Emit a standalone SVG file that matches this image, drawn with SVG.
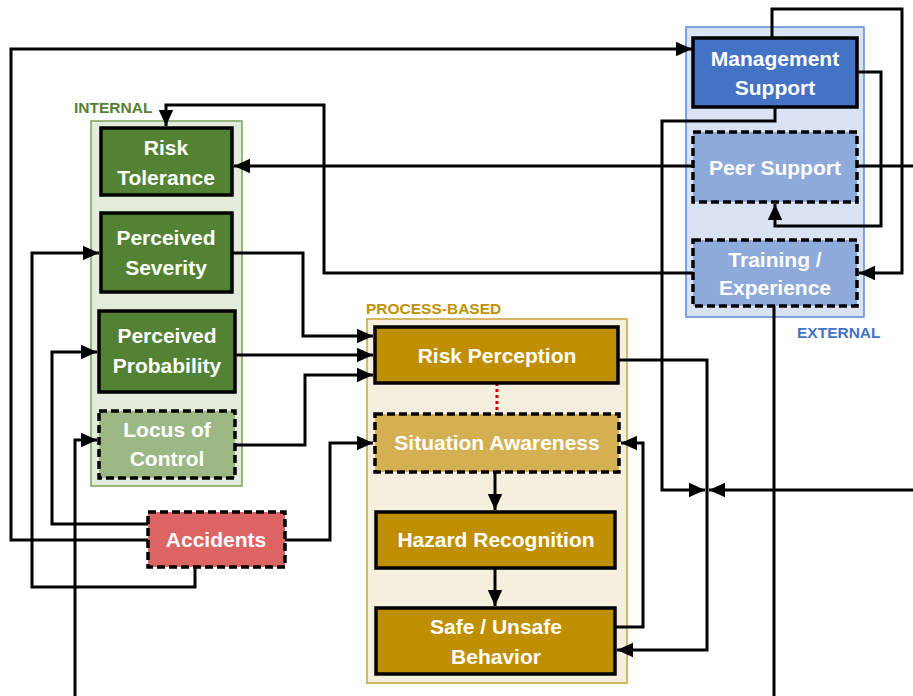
<svg xmlns="http://www.w3.org/2000/svg" width="913" height="696" viewBox="0 0 913 696">
<style>
.lbl{font-family:"Liberation Sans",Arial,sans-serif;font-weight:bold;font-size:21px;fill:#fff;text-anchor:middle}
.grp{font-family:"Liberation Sans",Arial,sans-serif;font-weight:bold;font-size:15.5px}
.nd{stroke:#000;stroke-width:3.5}
.dash{stroke-dasharray:8,4}
.cn path{fill:none;stroke:#000;stroke-width:3}
.cn path.arr{marker-end:url(#ah)}
</style>
<defs>
<marker id="ah" viewBox="0 0 10 10" refX="10" refY="5" markerWidth="16" markerHeight="16" markerUnits="userSpaceOnUse" orient="auto">
<path d="M0,0.5 L10,5 L0,9.5 z" fill="#000"/>
</marker>
</defs>
<rect width="913" height="696" fill="#fff"/>

<!-- containers -->
<g id="internal">
<rect x="91" y="121" width="151" height="365" fill="#e3ebdb" stroke="#7aa35a" stroke-width="1.5"/>
<text class="grp" x="74" y="113" fill="#548235">INTERNAL</text>
</g>
<g id="process">
<rect x="367" y="319" width="260" height="364" fill="#f5efdf" stroke="#c9a43c" stroke-width="1.5"/>
<text class="grp" x="366" y="314" fill="#bf9000">PROCESS-BASED</text>
</g>
<g id="external">
<rect x="686" y="27" width="178" height="290" fill="#dae3f3" stroke="#5b8bd8" stroke-width="1.5"/>
<text class="grp" x="797" y="338" fill="#4472c4">EXTERNAL</text>
</g>

<!-- connectors -->
<g id="connectors" class="cn">
<path class="arr" d="M148,540 H11 V49 H692"/>
<path class="arr" d="M148,524 H52 V352 H97"/>
<path class="arr" d="M195,567 V587 H32 V253 H99"/>
<path class="arr" d="M75,696 V440 H97"/>
<path class="arr" d="M285,540 H330 V443 H373"/>
<path class="arr" d="M232,253 H303 V336 H373"/>
<path class="arr" d="M235,355 H373"/>
<path class="arr" d="M235,445 H305 V375 H373"/>
<path d="M497,383 V413" style="stroke:#d00000;stroke-dasharray:3,3"/>
<path class="arr" d="M495,472 V510"/>
<path class="arr" d="M495,568 V606"/>
<path class="arr" d="M618,360 H707 V650 H617"/>
<path class="arr" d="M615,627 H643 V443 H621"/>
<path class="arr" d="M775,107 V121 H662 V490 H705"/>
<path class="arr" d="M913,490 H709"/>
<path class="arr" d="M772,38 V9 H902 V273 H859"/>
<path class="arr" d="M857,72 H881 V226 H775 V204"/>
<path class="arr" d="M693,166 H234"/>
<path d="M857,166 H913"/>
<path class="arr" d="M693,273 H324 V105 H166 V126"/>
<path d="M774,306 V696"/>
</g>

<!-- nodes -->
<g id="risk-tolerance">
<rect class="nd" x="101" y="128" width="131" height="67" fill="#548235"/>
<text class="lbl" x="166" y="155">Risk</text>
<text class="lbl" x="166" y="185">Tolerance</text>
</g>
<g id="perceived-severity">
<rect class="nd" x="101" y="213" width="131" height="79" fill="#548235"/>
<text class="lbl" x="166" y="245">Perceived</text>
<text class="lbl" x="166" y="275">Severity</text>
</g>
<g id="perceived-probability">
<rect class="nd" x="99" y="311" width="136" height="81" fill="#548235"/>
<text class="lbl" x="167" y="343">Perceived</text>
<text class="lbl" x="167" y="373">Probability</text>
</g>
<g id="locus-of-control">
<rect class="nd dash" x="99" y="411" width="136" height="67" fill="#9cb985"/>
<text class="lbl" x="167" y="437">Locus of</text>
<text class="lbl" x="167" y="466">Control</text>
</g>
<g id="accidents">
<rect class="nd dash" x="148" y="512" width="137" height="55" fill="#dc6464"/>
<text class="lbl" x="216" y="547">Accidents</text>
</g>
<g id="risk-perception">
<rect class="nd" x="375" y="327" width="243" height="56" fill="#bf8f00"/>
<text class="lbl" x="497" y="363">Risk Perception</text>
</g>
<g id="situation-awareness">
<rect class="nd dash" x="375" y="414" width="244" height="58" fill="#d4b053"/>
<text class="lbl" x="497" y="450">Situation Awareness</text>
</g>
<g id="hazard-recognition">
<rect class="nd" x="376" y="512" width="239" height="56" fill="#bf8f00"/>
<text class="lbl" x="496" y="547">Hazard Recognition</text>
</g>
<g id="safe-unsafe-behavior">
<rect class="nd" x="376" y="608" width="239" height="66" fill="#bf8f00"/>
<text class="lbl" x="496" y="634">Safe / Unsafe</text>
<text class="lbl" x="496" y="664">Behavior</text>
</g>
<g id="management-support">
<rect class="nd" x="693" y="38" width="164" height="69" fill="#4472c4"/>
<text class="lbl" x="775" y="66">Management</text>
<text class="lbl" x="775" y="95">Support</text>
</g>
<g id="peer-support">
<rect class="nd dash" x="693" y="132" width="164" height="70" fill="#8eaadb"/>
<text class="lbl" x="775" y="175">Peer Support</text>
</g>
<g id="training-experience">
<rect class="nd dash" x="693" y="240" width="164" height="66" fill="#8eaadb"/>
<text class="lbl" x="775" y="267">Training /</text>
<text class="lbl" x="775" y="295">Experience</text>
</g>
</svg>
